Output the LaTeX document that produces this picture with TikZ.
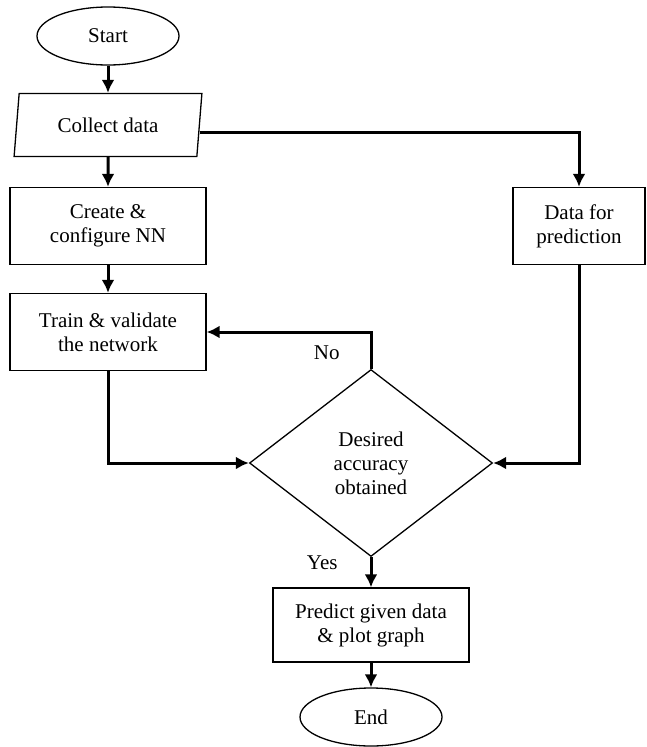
\documentclass[tikz,border=0pt]{standalone}
\usepackage{fontspec}
\setmainfont{Liberation Serif}
\newfontfamily\chartfont{Liberation Serif}
\usetikzlibrary{shapes,arrows,arrows.meta,positioning,calc}
\tikzset{
block/.style = {draw, fill=white, rectangle, line width=1.3pt, minimum height=77pt, minimum width=196pt, align=center, inner sep=2pt},
term/.style  = {draw, fill=white, ellipse, line width=1.3pt, minimum height=58pt, minimum width=142pt, inner sep=0pt},
io/.style    = {draw, fill=white, trapezium, trapezium left angle=79, trapezium right angle=101, trapezium stretches=true, line width=1.3pt, minimum height=63pt, minimum width=188pt, inner sep=0pt},
decision/.style = {draw, fill=white, diamond, line width=1.3pt, minimum height=187pt, minimum width=243pt, inner sep=0pt, align=center},
flow/.style  = {draw, line width=3pt, ->},
lbl/.style   = {inner sep=0pt}
}
\begin{document}
\begin{tikzpicture}[auto, node distance=100pt, >={Latex[length=13pt,width=13pt]}, x=1pt, y=1pt,
    font=\chartfont\fontsize{21}{24}\selectfont]

    \useasboundingbox (0,0) rectangle (646,-747);

    \node [term] (start) at (108,-36) {Start};
    \node [io, below of=start, node distance=89pt] (collect) {Collect data};
    \node [block, below of=collect, node distance=101pt] (create) {Create \&\\configure NN};
    \node [block, below of=create, node distance=106pt] (train) {Train \& validate\\the network};
    \node [block, right of=create, node distance=471pt, minimum width=132pt] (data) {Data for\\prediction};
    \node [decision, below of=train, node distance=131pt, xshift=263pt] (dec) {Desired\\accuracy\\obtained};
    \node [block, below of=dec, node distance=162pt, minimum height=74pt] (predict) {Predict given data\\\& plot graph};
    \node [term, below of=predict, node distance=92pt] (end) {End};

    \draw [flow] (start) -- (collect);
    \draw [flow] (collect) -- (create);
    \draw [flow] (create) -- (train);
    \draw [flow] ([yshift=-7pt]collect.east) -| (data.north);
    \draw [flow] (data.south) |- (dec.east);
    \draw [flow] (train.south) |- (dec.west);
    \draw [flow] (dec.north) |- node [lbl, pos=0.22, left=30pt] (no) {No} (train.east);
    \draw [flow] (dec.south) -- node [lbl, pos=0.17, left=32pt] (yes) {Yes} (predict.north);
    \draw [flow] (predict) -- (end);
\end{tikzpicture}
\end{document}
